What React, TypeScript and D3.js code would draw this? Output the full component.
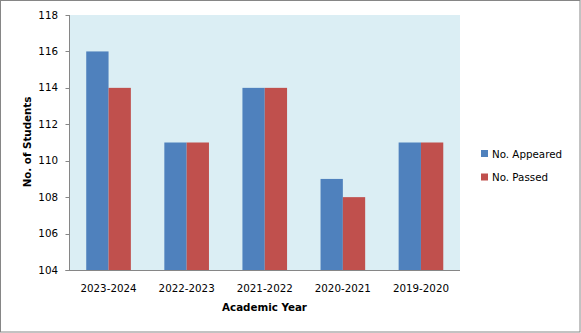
import React from "react";
import * as d3 from "d3";

const categories = ["2023-2024", "2022-2023", "2021-2022", "2020-2021", "2019-2020"];
const appeared = [116, 111, 114, 109, 111];
const passed = [114, 111, 114, 108, 111];
const seriesNames = ["No. Appeared", "No. Passed"];
const yTicks = [104, 106, 108, 110, 112, 114, 116, 118];

const W = 581;
const H = 333;
const plot = { left: 69.5, right: 460, top: 15, bottom: 270 };
const colors = ["#4F81BD", "#C0504D"];
const font = "'DejaVu Sans', Verdana, sans-serif";

export default function App() {
  const x = d3.scaleBand<string>().domain(categories).range([plot.left, plot.right]).paddingInner(0).paddingOuter(0);
  const y = d3.scaleLinear().domain([104, 118]).range([plot.bottom, plot.top]);
  const bw = x.bandwidth() / 3.5;
  const series = [appeared, passed];

  return (
    <div style={{ position: "fixed", left: 0, top: 0 }}>
      <svg width={W} height={H} style={{ display: "block" }}>
        <rect x={0} y={0} width={W} height={H} fill="#fff" />
        <rect x={0.5} y={0.5} width={W - 1.5} height={H - 1.5} fill="none" stroke="#868686" strokeWidth={1} />
        <rect x={plot.left} y={plot.top} width={plot.right - plot.left} height={plot.bottom - plot.top} fill="#DBEEF4" />
        {series.map((vals, si) =>
          vals.map((v, i) => {
            const cx = (x(categories[i]) as number) + x.bandwidth() / 2;
            const bx = cx - bw + si * bw;
            return (
              <rect key={`${si}-${i}`} x={bx} y={y(v)} width={bw} height={plot.bottom - y(v)} fill={colors[si]} />
            );
          })
        )}
        <line x1={plot.left} x2={plot.left} y1={plot.top} y2={plot.bottom} stroke="#868686" />
        <line x1={plot.left - 4} x2={plot.right} y1={plot.bottom + 0.5} y2={plot.bottom + 0.5} stroke="#868686" />
        {yTicks.map((t) => (
          <g key={t}>
            <line x1={plot.left - 4} x2={plot.left} y1={Math.round(y(t)) + 0.5} y2={Math.round(y(t)) + 0.5} stroke="#868686" />
            <text x={58} y={y(t)} dy="0.35em" textAnchor="end" fontFamily={font} fontSize={10.3} fill="#000">
              {t}
            </text>
          </g>
        ))}
        {categories.map((c) => (
          <text key={c} x={(x(c) as number) + x.bandwidth() / 2} y={291.5} textAnchor="middle" fontFamily={font} fontSize={10.3} fill="#000">
            {c}
          </text>
        ))}
        <text x={264.5} y={311} textAnchor="middle" fontFamily={font} fontSize={10.3} fontWeight="bold" fill="#000">
          Academic Year
        </text>
        <text transform={`translate(30.5,142) rotate(-90)`} textAnchor="middle" fontFamily={font} fontSize={10.3} fontWeight="bold" fill="#000">
          No. of Students
        </text>
        {seriesNames.map((n, i) => (
          <g key={n}>
            <rect x={481} y={150 + i * 23.5} width={7} height={7} fill={colors[i]} />
            <text x={492} y={157.5 + i * 23.5} fontFamily={font} fontSize={10.3} fill="#000">
              {n}
            </text>
          </g>
        ))}
      </svg>
    </div>
  );
}
